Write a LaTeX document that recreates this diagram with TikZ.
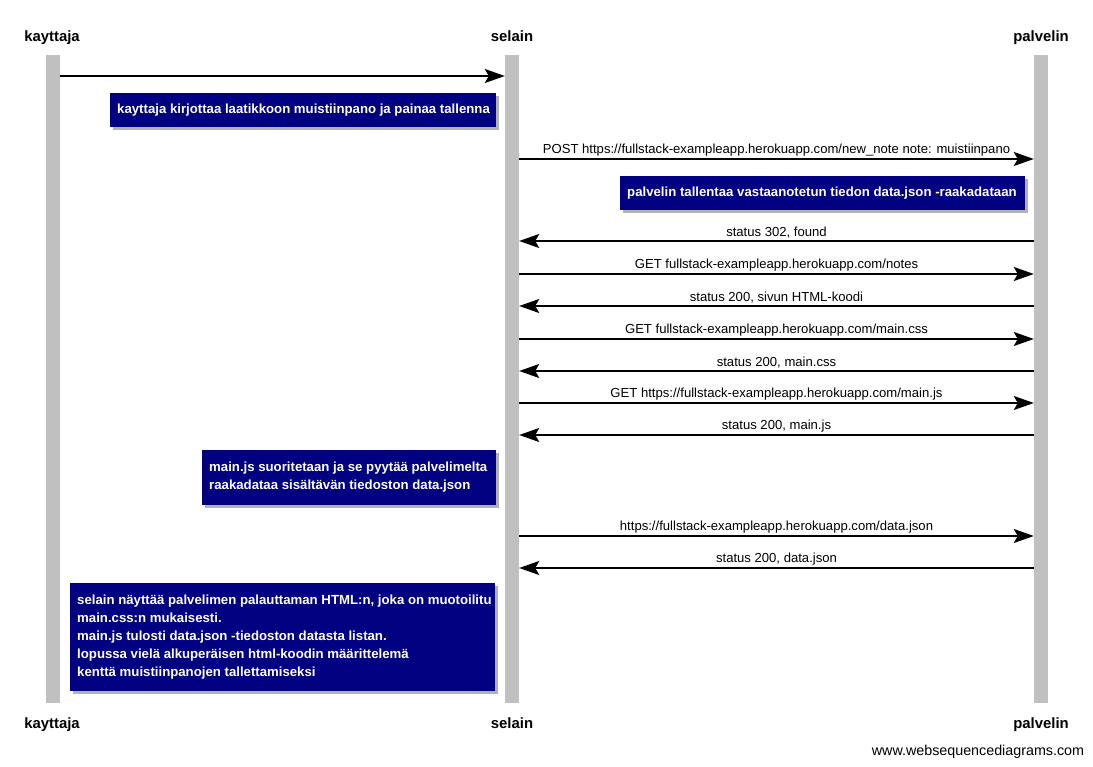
\documentclass[tikz,border=0pt]{standalone}
\usepackage{fontspec}
\setmainfont{Liberation Sans}
\usetikzlibrary{arrows.meta,calc}
\definecolor{barcol}{HTML}{C0C0C0}
\definecolor{notecol}{HTML}{000080}
\begin{document}
\begin{tikzpicture}[x=1pt,y=-1pt,
  actor/.style={font=\fontsize{14.9}{16}\selectfont\bfseries, inner sep=0pt, anchor=base},
  lifeline/.style={fill=barcol, draw=none, minimum width=14pt, minimum height=648pt, inner sep=0pt},
  msg/.style={line width=1.8pt, -{Stealth[length=20pt,width=14pt,inset=4pt]}},
  msglabel/.style={font=\fontsize{13.1}{15}\selectfont, inner sep=0pt, anchor=base},
  note/.style={fill=notecol, text=white, font=\fontsize{13.2}{18}\selectfont\bfseries, align=left,
    inner sep=0pt, anchor=west},
  shadow/.style={fill=black!30, draw=none}
]
\useasboundingbox[fill=white] (0,0) rectangle (1093,767);

% lifelines
\node[lifeline] (k) at (53,379) {};
\node[lifeline] (s) at (512,379) {};
\node[lifeline] (p) at (1041,379) {};

% actor names, top and bottom
\node[actor] (kt) at (52,42) {kayttaja};
\node[actor] (st) at (512,42) {selain};
\node[actor] (pt) at (1041,42) {palvelin};
\node[actor] (kb) at (52,728) {kayttaja};
\node[actor] (sb) at (512,728) {selain};
\node[actor] (pb) at (1041,728) {palvelin};

% notes: a shadow rectangle under a navy box, text centred vertically
\newcommand{\notebox}[6]{%
  \fill[shadow] (#1+3,#2+3) rectangle (#3+3,#4+3);
  \fill[notecol] (#1,#2) rectangle (#3,#4);
  \node[note] (#5) at (#1+7,{(#2+#4)/2}) {#6};
}

% messages
\draw[msg] (k.east |- 0,76) -- (s.west |- 0,76);
\notebox{110}{93}{496}{127}{n1}{kayttaja kirjottaa laatikkoon muistiinpano ja painaa tallenna}

\draw[msg] (s.east |- 0,159) -- node[msglabel, above=1.5pt] {POST https://fullstack-exampleapp.herokuapp.com/new\_note note: muistiinpano} (p.west |- 0,159);
\notebox{620}{176}{1025}{210}{n2}{palvelin tallentaa vastaanotetun tiedon data.json -raakadataan}

\draw[msg] (p.west |- 0,241) -- node[msglabel, above=1.5pt] {status 302, found} (s.east |- 0,241);
\draw[msg] (s.east |- 0,274) -- node[msglabel, above=1.5pt] {GET fullstack-exampleapp.herokuapp.com/notes} (p.west |- 0,274);
\draw[msg] (p.west |- 0,306) -- node[msglabel, above=1.5pt] {status 200, sivun HTML-koodi} (s.east |- 0,306);
\draw[msg] (s.east |- 0,339) -- node[msglabel, above=1.5pt] {GET fullstack-exampleapp.herokuapp.com/main.css} (p.west |- 0,339);
\draw[msg] (p.west |- 0,371) -- node[msglabel, above=1.5pt] {status 200, main.css} (s.east |- 0,371);
\draw[msg] (s.east |- 0,403) -- node[msglabel, above=1.5pt] {GET https://fullstack-exampleapp.herokuapp.com/main.js} (p.west |- 0,403);
\draw[msg] (p.west |- 0,435) -- node[msglabel, above=1.5pt] {status 200, main.js} (s.east |- 0,435);

\notebox{202}{450}{496}{505}{n3}{main.js suoritetaan ja se pyytää palvelimelta\\raakadataa sisältävän tiedoston data.json}

\draw[msg] (s.east |- 0,536) -- node[msglabel, above=1.5pt] {https://fullstack-exampleapp.herokuapp.com/data.json} (p.west |- 0,536);
\draw[msg] (p.west |- 0,568) -- node[msglabel, above=1.5pt] {status 200, data.json} (s.east |- 0,568);

\notebox{70}{583}{495}{691}{n4}{selain näyttää palvelimen palauttaman HTML:n, joka on muotoilitu\\main.css:n mukaisesti.\\main.js tulosti data.json -tiedoston datasta listan.\\lopussa vielä alkuperäisen html-koodin määrittelemä\\kenttä muistiinpanojen tallettamiseksi}

\node[font=\fontsize{14.3}{16}\selectfont, inner sep=0pt] (wsd) at (978,752) {www.websequencediagrams.com};
\end{tikzpicture}
\end{document}
